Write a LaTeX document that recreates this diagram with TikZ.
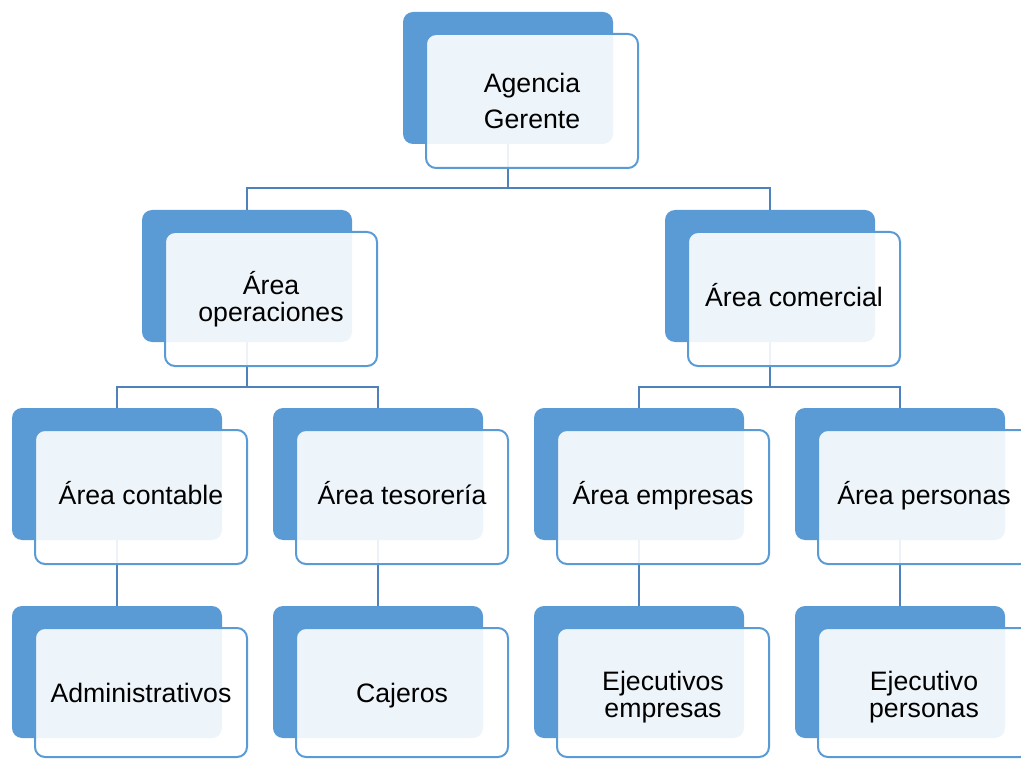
\documentclass[tikz,border=0pt]{standalone}
\usepackage{fontspec}
\setmainfont{Liberation Sans}
\definecolor{dblue}{HTML}{5B9BD5}
\definecolor{cblue}{HTML}{4F81BD}
\pgfdeclarelayer{bg}
\pgfsetlayers{bg,main}
\tikzset{
  darkbox/.style={fill=dblue, rounded corners=7.5pt, minimum width=157.5pt, minimum height=99pt, inner sep=0pt, outer sep=0pt},
  frontbox/.style={draw=dblue, line width=1.5pt, fill=white, fill opacity=0.9, text opacity=1, rounded corners=7.5pt,
    minimum width=159pt, minimum height=100.5pt, inner sep=0pt, outer sep=0pt, align=center,
    font=\fontsize{20}{20.5}\selectfont},
  oneline/.style={text height=14pt, text depth=3pt},
  lowbox/.style={frontbox, minimum height=96.75pt},
  lbl/.style={inner sep=0pt, align=center, font=\fontsize{20}{20.5}\selectfont},
  conn/.style={draw=cblue, line width=1.7pt}
}
\begin{document}
\begin{tikzpicture}[x=0.75pt,y=-0.75pt]
\useasboundingbox (0,0) rectangle (1021,759);
\clip (0,0) rectangle (1021,759);
% level 1
\node[darkbox] (d1) at (508,78) {};
\node[frontbox] (f1) at (532,101) {Agencia\\[7pt]Gerente};
% level 2
\node[darkbox] (d2a) at (247,276) {};
\node[frontbox] (f2a) at (271,299) {Área\\operaciones};
\node[darkbox] (d2b) at (770,276) {};
\node[frontbox, oneline] (f2b) at (794,299) {Área comercial};
% level 3
\node[darkbox] (d3a) at (117,474) {};
\node[frontbox, oneline] (f3a) at (141,497) {Área contable};
\node[darkbox] (d3b) at (378,474) {};
\node[frontbox, oneline] (f3b) at (402,497) {Área tesorería};
\node[darkbox] (d3c) at (639,474) {};
\node[frontbox, oneline] (f3c) at (663,497) {Área empresas};
\node[darkbox] (d3d) at (900,474) {};
\node[frontbox, oneline] (f3d) at (924,497) {Área personas};
% level 4
\node[darkbox] (d4a) at (117,672) {};
\node[lowbox] (f4a) at (141,692.5) {};
\node[lbl, oneline] (t4a) at (141,695) {Administrativos};
\node[darkbox] (d4b) at (378,672) {};
\node[lowbox] (f4b) at (402,692.5) {};
\node[lbl, oneline] (t4b) at (402,695) {Cajeros};
\node[darkbox] (d4c) at (639,672) {};
\node[lowbox] (f4c) at (663,692.5) {};
\node[lbl] (t4c) at (663,697) {Ejecutivos\\empresas};
\node[darkbox] (d4d) at (900,672) {};
\node[lowbox] (f4d) at (924,692.5) {};
\node[lbl] (t4d) at (924,697) {Ejecutivo\\personas};
% connectors
\coordinate (j1) at (508,188);
\coordinate (j2a) at (247,387);
\coordinate (j2b) at (770,387);
\begin{pgfonlayer}{bg}
\draw[conn] (d1.south) -- (j1);
\draw[conn] (d2a.north) |- (j1) -| (d2b.north);
\draw[conn] (d2a.south) -- (j2a);
\draw[conn] (d3a.north) |- (j2a) -| (d3b.north);
\draw[conn] (d2b.south) -- (j2b);
\draw[conn] (d3c.north) |- (j2b) -| (d3d.north);
\draw[conn] (d3a.south) -- (d4a.north);
\draw[conn] (d3b.south) -- (d4b.north);
\draw[conn] (d3c.south) -- (d4c.north);
\draw[conn] (d3d.south) -- (d4d.north);
\end{pgfonlayer}
\end{tikzpicture}
\end{document}
